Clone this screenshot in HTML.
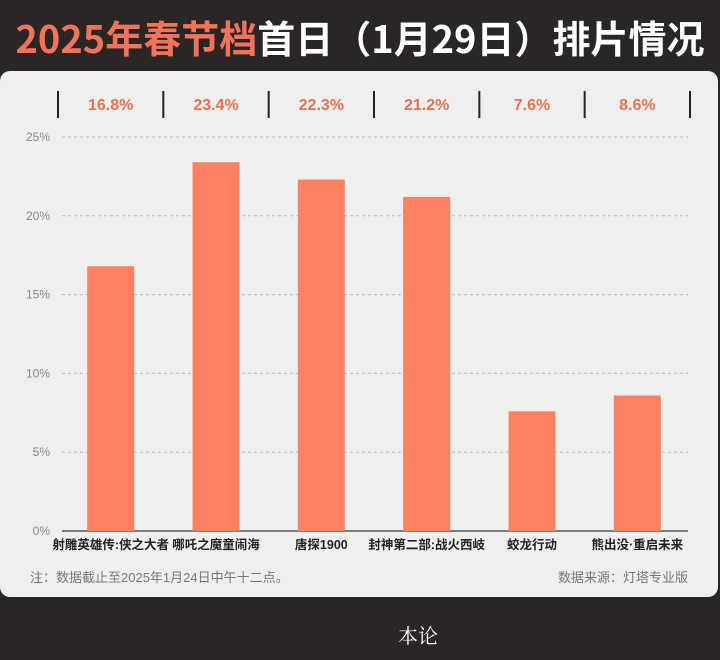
<!DOCTYPE html>
<html><head><meta charset="utf-8">
<style>
body{margin:0;width:720px;height:660px;background:#2a2625;overflow:hidden;font-family:"Liberation Sans","Noto Sans CJK SC",sans-serif;}
#title{position:absolute;left:0;top:9px;width:720px;text-align:center;font-size:38px;font-weight:bold;color:#fff;white-space:nowrap;font-family:"Noto Sans CJK SC",sans-serif;}
#title span{color:#f0735a;}
#panel{position:absolute;left:0;top:71px;width:718px;height:526px;background:#efefef;border-radius:10px;}
svg{position:absolute;left:0;top:0;}
#logo{position:absolute;left:398px;top:620px;color:#fff;font-size:20px;font-family:"Noto Serif CJK SC",serif;}
</style></head><body>
<div id="title"><span>2025年春节档</span>首日（1月29日）排片情况</div>
<div id="panel"></div>
<svg width="720" height="660" id="chart"></svg>
<div id="logo">本论</div>
<script>
const categories=["射雕英雄传:侠之大者","哪吒之魔童闹海","唐探1900","封神第二部:战火西岐","蛟龙行动","熊出没·重启未来"];
const values=[16.8,23.4,22.3,21.2,7.6,8.6];
const valueLabels=["16.8%","23.4%","22.3%","21.2%","7.6%","8.6%"];
const yTicks=[0,5,10,15,20,25];
const ns="http://www.w3.org/2000/svg";
const svg=document.getElementById('chart');
const x0=58,x1=690,y0=531,y1=137,ymax=25;
const bw=(x1-x0)/categories.length;
function yS(v){return y0-(v/ymax)*(y0-y1);}
function xC(i){return x0+bw*(i+0.5);}
function el(t,a,txt){const e=document.createElementNS(ns,t);for(const k in a)e.setAttribute(k,a[k]);if(txt!==undefined)e.textContent=txt;svg.appendChild(e);return e;}
yTicks.forEach(v=>{
  const y=yS(v);
  const g=el('line',{x1:62,x2:688,y1:y,y2:y,stroke:v===0?'#555':'#bbb','stroke-width':v===0?1.5:1,'stroke-dasharray':v===0?'':'3,3'});
  
  
  const t=el('text',{x:50,y:y+4,'text-anchor':'end','font-size':12,fill:'#888'},v+'%');
  
  
});
for(let i=0;i<=categories.length;i++){
  const s=el('line',{x1:x0+bw*i,x2:x0+bw*i,y1:91,y2:118,stroke:'#222','stroke-width':2});
  
  
}
categories.forEach((c,i)=>{
  const b=el('rect',{x:xC(i)-23.5,y:yS(values[i]),width:47,height:y0-yS(values[i]),fill:'#fe8162'});
  
  
  const v=el('text',{x:xC(i),y:110,'text-anchor':'middle','font-size':16,'font-weight':'bold',fill:'#e8714f'},valueLabels[i]);
  
  
  const l=el('text',{x:xC(i),y:549,'text-anchor':'middle','font-size':12.5,'font-weight':'bold',fill:'#222'},c);
  
  
});
const n1=el('text',{x:30,y:582,'font-size':13,fill:'#777'},'注：数据截止至2025年1月24日中午十二点。');


const n2=el('text',{x:688,y:582,'text-anchor':'end','font-size':13,fill:'#777'},'数据来源：灯塔专业版');


</script>
</body></html>
